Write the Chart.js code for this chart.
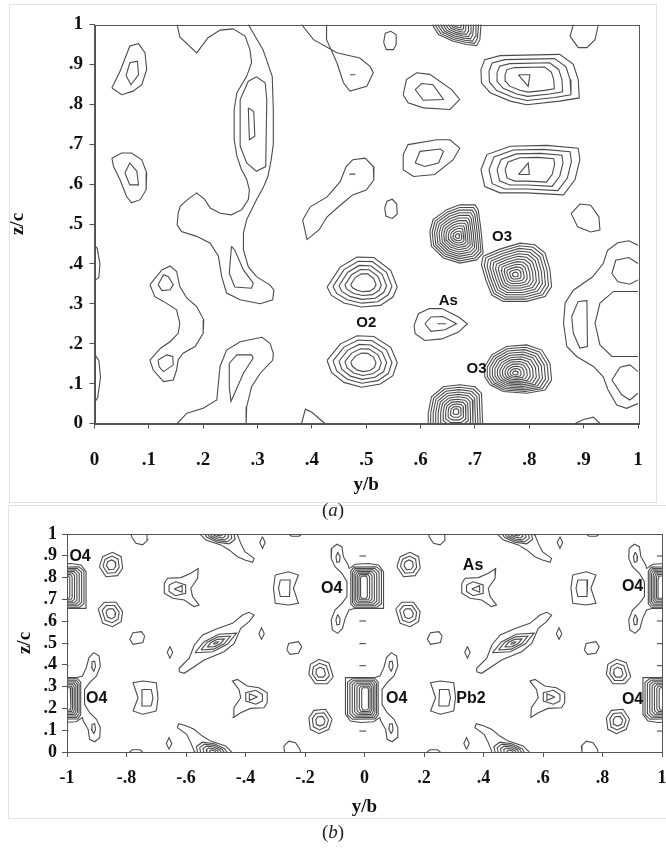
<!DOCTYPE html>
<html>
<head>
<meta charset="utf-8">
<script src="https://cdn.jsdelivr.net/npm/chart.js@4.4.1/dist/chart.umd.min.js"></script>
<style>
  html, body { margin: 0; padding: 0; background: #fff; }
  #page { position: relative; width: 666px; height: 848px; overflow: hidden; }
  .frame { position: absolute; border: 1px solid #e3e3e3; }
  canvas { position: absolute; left: 0; }
  .cap { position: absolute; left: 0; width: 666px; text-align: center; font: 19px "Liberation Serif", serif; color: #222; line-height: 20px; }
</style>
</head>
<body>
<div id="page">
  <div class="frame" style="left:9px;top:4px;width:646px;height:497px"></div>
  <div class="frame" style="left:8px;top:505px;width:700px;height:312px;border-right:none"></div>
  <canvas id="chartA" width="666" height="500" style="top:0"></canvas>
  <canvas id="chartB" width="666" height="320" style="top:512px"></canvas>
  <div class="cap" style="top:500px">(<i>a</i>)</div>
  <div class="cap" style="top:822px">(<i>b</i>)</div>
</div>
<script>
// ---------- panel (a): y/b 0..1, z/c 0..1 ----------
const ticksA = [0, 0.1, 0.2, 0.3, 0.4, 0.5, 0.6, 0.7, 0.8, 0.9, 1];
const labelsA = ['0', '.1', '.2', '.3', '.4', '.5', '.6', '.7', '.8', '.9', '1'];

const a_tl1Out = [[0.032,0.841],[0.047,0.883],[0.065,0.946],[0.081,0.952],[0.093,0.929],[0.096,0.887],[0.087,0.849],[0.071,0.833],[0.05,0.824]];
const a_tl1In = [[0.058,0.872],[0.065,0.904],[0.079,0.908],[0.081,0.874],[0.067,0.849]];
const a_tl2Out = [[0.032,0.665],[0.05,0.678],[0.068,0.678],[0.087,0.661],[0.096,0.628],[0.095,0.586],[0.084,0.561],[0.068,0.553],[0.059,0.569],[0.047,0.611],[0.035,0.644]];
const a_tl2In = [[0.056,0.628],[0.065,0.653],[0.078,0.632],[0.081,0.598],[0.065,0.598]];
const a_ribbon = [[0.152,1.0],[0.157,0.969],[0.188,0.929],[0.209,0.967],[0.231,0.986],[0.255,0.989],[0.277,0.971],[0.286,0.937],[0.289,0.904],[0.280,0.870],[0.262,0.829],[0.257,0.787],[0.257,0.711],[0.262,0.670],[0.270,0.638],[0.280,0.612],[0.285,0.585],[0.283,0.561],[0.271,0.536],[0.252,0.523],[0.231,0.527],[0.213,0.540],[0.203,0.561],[0.188,0.578],[0.170,0.560],[0.158,0.545],[0.154,0.528],[0.152,0.498],[0.160,0.481],[0.188,0.469],[0.213,0.452],[0.228,0.419],[0.234,0.368],[0.243,0.327],[0.268,0.310],[0.305,0.300],[0.328,0.310],[0.330,0.335],[0.323,0.347],[0.298,0.368],[0.283,0.393],[0.274,0.435],[0.274,0.477],[0.280,0.511],[0.289,0.536],[0.298,0.561],[0.310,0.590],[0.319,0.619],[0.325,0.660],[0.329,0.700],[0.329,0.787],[0.327,0.870],[0.310,0.937],[0.283,1.0]];
const a_ribbonIn = [[0.283,0.858],[0.298,0.869],[0.314,0.854],[0.317,0.812],[0.315,0.644],[0.298,0.632],[0.280,0.653],[0.268,0.695],[0.268,0.812]];
const a_ribbonCore = [[0.283,0.791],[0.293,0.782],[0.295,0.72],[0.285,0.711]];
const a_lobeIn = [[0.252,0.444],[0.248,0.377],[0.258,0.342],[0.289,0.339],[0.292,0.352],[0.274,0.385],[0.258,0.435]];
const a_edgeHi = [[0,0.447],[0.005,0.439],[0.01,0.4],[0.008,0.366],[0,0.358]];
const a_edgeLo = [[0,0.174],[0.008,0.158],[0.011,0.116],[0.006,0.065],[0,0.053]];
const a_bone = [[0.102,0.348],[0.124,0.385],[0.139,0.395],[0.151,0.381],[0.157,0.343],[0.170,0.314],[0.188,0.293],[0.201,0.26],[0.2,0.226],[0.185,0.193],[0.163,0.176],[0.154,0.16],[0.151,0.134],[0.145,0.109],[0.127,0.105],[0.108,0.134],[0.102,0.159],[0.121,0.188],[0.139,0.205],[0.154,0.226],[0.157,0.251],[0.151,0.285],[0.127,0.306],[0.111,0.318]];
const a_boneTop = [[0.117,0.348],[0.127,0.373],[0.136,0.368],[0.145,0.348],[0.139,0.335],[0.124,0.333]];
const a_boneBot = [[0.117,0.159],[0.133,0.172],[0.144,0.168],[0.145,0.147],[0.127,0.130],[0.119,0.142]];
const a_foot = [[0.152,0.0],[0.170,0.026],[0.2,0.038],[0.225,0.059],[0.231,0.143],[0.243,0.184],[0.268,0.205],[0.308,0.216],[0.323,0.201],[0.329,0.176],[0.328,0.159],[0.305,0.126],[0.289,0.092],[0.280,0.042],[0.279,0.0]];
const a_footIn = [[0.248,0.151],[0.262,0.172],[0.289,0.172],[0.292,0.164],[0.274,0.126],[0.255,0.067],[0.251,0.055],[0.248,0.092]];
const a_bump = [[0.381,0],[0.388,0.036],[0.4,0.028],[0.424,0]];
const a_tailMid = [[0.475,0.661],[0.498,0.665],[0.513,0.644],[0.514,0.61],[0.5,0.585],[0.475,0.573],[0.452,0.547],[0.428,0.518],[0.413,0.485],[0.391,0.461],[0.383,0.51],[0.397,0.543],[0.428,0.568],[0.452,0.606],[0.463,0.644]];
const a_dashMid = [[0.469,0.625],[0.48,0.625]];
const a_tailTop = [[0.381,1.0],[0.403,0.962],[0.446,0.929],[0.488,0.916],[0.507,0.895],[0.513,0.879],[0.501,0.845],[0.470,0.833],[0.458,0.854],[0.446,0.904],[0.427,0.962],[0.427,1.0]];
const a_dashTop = [[0.470,0.874],[0.48,0.874]];
const a_dotHi = [[0.532,0.955],[0.535,0.978],[0.545,0.983],[0.555,0.975],[0.555,0.95],[0.55,0.937],[0.537,0.937]];
const a_dotLo = [[0.534,0.54],[0.538,0.557],[0.548,0.562],[0.556,0.55],[0.557,0.525],[0.548,0.514],[0.536,0.52]];
const a_asOut = [[0.588,0.246],[0.596,0.275],[0.616,0.288],[0.639,0.288],[0.67,0.267],[0.686,0.25],[0.67,0.229],[0.639,0.212],[0.608,0.208],[0.590,0.225]];
const a_asIn = [[0.608,0.25],[0.619,0.267],[0.641,0.268],[0.666,0.25],[0.645,0.235],[0.619,0.231]];
const a_asDash = [[0.631,0.25],[0.647,0.25]];
const a_pairHiOut = [[0.568,0.824],[0.574,0.862],[0.593,0.879],[0.617,0.875],[0.657,0.837],[0.672,0.812],[0.654,0.787],[0.605,0.791],[0.577,0.804]];
const a_pairHiIn = [[0.590,0.837],[0.602,0.852],[0.623,0.849],[0.642,0.812],[0.605,0.81]];
const a_pairLoOut = [[0.568,0.674],[0.577,0.699],[0.630,0.711],[0.654,0.711],[0.672,0.69],[0.66,0.661],[0.626,0.624],[0.587,0.619],[0.568,0.636]];
const a_pairLoIn = [[0.590,0.653],[0.599,0.682],[0.636,0.688],[0.642,0.682],[0.633,0.653],[0.608,0.644]];
const a_triHi = [[0.780,0.874],[0.801,0.874],[0.798,0.845]];
const a_triLo = [[0.78,0.624],[0.8,0.624],[0.798,0.653]];
const a_loopTop = [[0.881,1.0],[0.875,0.971],[0.89,0.942],[0.906,0.942],[0.921,0.962],[0.927,1.0]];
const a_loopMid = [[0.877,0.526],[0.893,0.55],[0.913,0.547],[0.928,0.518],[0.93,0.485],[0.913,0.48],[0.889,0.493]];
const a_rimOut = [[1.0,0.447],[0.983,0.458],[0.963,0.453],[0.944,0.434],[0.936,0.401],[0.916,0.367],[0.881,0.334],[0.866,0.302],[0.863,0.251],[0.869,0.193],[0.887,0.168],[0.918,0.143],[0.936,0.117],[0.945,0.084],[0.961,0.046],[0.979,0.038],[1.0,0.05]];
const a_rimHiLoop = [[1.0,0.401],[0.983,0.416],[0.959,0.409],[0.952,0.376],[0.963,0.355],[0.985,0.349],[1.0,0.36]];
const a_rimLeftLoop = [[0.878,0.268],[0.89,0.306],[0.906,0.308],[0.907,0.193],[0.893,0.189],[0.881,0.226]];
const a_rimBig = [[1.0,0.331],[0.955,0.331],[0.93,0.302],[0.921,0.251],[0.93,0.197],[0.952,0.168],[1.0,0.168]];
const a_rimLoLoop = [[1.0,0.13],[0.985,0.147],[0.967,0.141],[0.952,0.109],[0.97,0.072],[0.985,0.059],[1.0,0.076]];
const a_rimBump = [[0.884,0],[0.9,0.01],[0.918,0.016],[0.93,0]];

// outer outlines of the nested peaks
const a_o2Hi = [[0.428,0.342],[0.452,0.392],[0.483,0.417],[0.514,0.416],[0.545,0.384],[0.557,0.342],[0.549,0.317],[0.526,0.296],[0.491,0.292],[0.459,0.302],[0.436,0.321]];
const a_o2Lo = [[0.428,0.158],[0.452,0.199],[0.483,0.220],[0.514,0.218],[0.545,0.191],[0.557,0.153],[0.549,0.12],[0.526,0.099],[0.491,0.091],[0.459,0.103],[0.436,0.128]];
const a_o3UL = [[0.617,0.481],[0.623,0.511],[0.648,0.536],[0.672,0.548],[0.70,0.548],[0.706,0.536],[0.711,0.486],[0.715,0.427],[0.703,0.41],[0.672,0.402],[0.642,0.415],[0.62,0.444]];
const a_o3UR = [[0.715,0.419],[0.746,0.437],[0.783,0.452],[0.81,0.448],[0.829,0.427],[0.838,0.385],[0.841,0.343],[0.829,0.318],[0.795,0.306],[0.752,0.306],[0.731,0.322],[0.72,0.36],[0.712,0.398]];
const a_o3LR = [[0.718,0.143],[0.731,0.172],[0.758,0.193],[0.795,0.197],[0.823,0.184],[0.838,0.151],[0.841,0.109],[0.829,0.084],[0.795,0.076],[0.752,0.08],[0.728,0.097],[0.718,0.117]];
const a_o3LL = [[0.614,0.026],[0.62,0.067],[0.642,0.092],[0.672,0.097],[0.70,0.092],[0.712,0.076],[0.714,0.005],[0.714,-0.02],[0.69,-0.045],[0.64,-0.045],[0.614,-0.02]];
const a_o3Top = [[0.623,0.996],[0.633,0.975],[0.66,0.958],[0.685,0.95],[0.703,0.947],[0.709,0.962],[0.711,0.996],[0.711,1.04],[0.668,1.05],[0.623,1.04]];
const a_bigHi = [[0.711,0.887],[0.718,0.912],[0.746,0.922],[0.856,0.925],[0.881,0.9],[0.89,0.862],[0.892,0.816],[0.856,0.808],[0.795,0.799],[0.765,0.808],[0.728,0.829],[0.712,0.854]];
const a_bigLo = [[0.711,0.636],[0.722,0.674],[0.765,0.695],[0.832,0.697],[0.89,0.69],[0.893,0.661],[0.884,0.611],[0.863,0.573],[0.795,0.578],[0.746,0.578],[0.718,0.594]];

// outline, centre y/b, centre z/c, number of rings, inner scale (x, y)
const a_rings = [
  [a_o2Hi, 0.496, 0.352, 5, 0.36, 0.36],
  [a_o2Lo, 0.496, 0.152, 5, 0.36, 0.36],
  [a_o3UL, 0.668, 0.469, 12, 0.08, 0.08],
  [a_o3UR, 0.774, 0.373, 12, 0.08, 0.08],
  [a_o3LR, 0.774, 0.126, 12, 0.08, 0.08],
  [a_o3LL, 0.665, 0.03, 11, 0.1, 0.1],
  [a_o3Top, 0.668, 1.0, 9, 0.15, 0.15],
  [a_bigHi, 0.8, 0.862, 4, 0.5, 0.5],
  [a_bigLo, 0.8, 0.637, 4, 0.5, 0.5]
];
// contour, closed?
const a_lines = [
  [a_tl1Out, 1], [a_tl1In, 1], [a_tl2Out, 1], [a_tl2In, 1],
  [a_ribbon, 0], [a_ribbonIn, 1], [a_ribbonCore, 1], [a_lobeIn, 1],
  [a_edgeHi, 0], [a_edgeLo, 0], [a_bone, 1], [a_boneTop, 1], [a_boneBot, 1],
  [a_foot, 0], [a_footIn, 1], [a_bump, 0],
  [a_tailMid, 1], [a_dashMid, 0], [a_tailTop, 0], [a_dashTop, 0],
  [a_dotHi, 1], [a_dotLo, 1], [a_asOut, 1], [a_asIn, 1], [a_asDash, 0],
  [a_pairHiOut, 1], [a_pairHiIn, 1], [a_pairLoOut, 1], [a_pairLoIn, 1],
  [a_triHi, 1], [a_triLo, 1], [a_loopTop, 0], [a_loopMid, 1],
  [a_rimOut, 0], [a_rimHiLoop, 0], [a_rimLeftLoop, 1], [a_rimBig, 0], [a_rimLoLoop, 0], [a_rimBump, 0]
];
const a_text = [['O3', 0.75, 0.468], ['As', 0.651, 0.308], ['O2', 0.5, 0.251], ['O3', 0.703, 0.137]];

// ---------- panel (b): y/b -1..1, z/c 0..1 ----------
const ticksBx = [-1, -0.8, -0.6, -0.4, -0.2, 0, 0.2, 0.4, 0.6, 0.8, 1];
const labelsBx = ['-1', '-.8', '-.6', '-.4', '-.2', '0', '.2', '.4', '.6', '.8', '1'];
const ticksBy = [0, 0.1, 0.2, 0.3, 0.4, 0.5, 0.6, 0.7, 0.8, 0.9, 1];
const labelsBy = ['0', '.1', '.2', '.3', '.4', '.5', '.6', '.7', '.8', '.9', '1'];

const b_o4Out = [[-0.052,0.841],[-0.054,0.856],[-0.071,0.896],[-0.076,0.942],[-0.093,0.953],[-0.110,0.934],[-0.112,0.888],[-0.099,0.850],[-0.076,0.820],[-0.059,0.781],[-0.059,0.713],[-0.076,0.682],[-0.099,0.651],[-0.112,0.606],[-0.108,0.560],[-0.090,0.544],[-0.074,0.567],[-0.065,0.613],[-0.052,0.651],[-0.031,0.659],[0.064,0.659],[0.064,0.827],[0.047,0.858],[0.013,0.865],[-0.031,0.861]];
const b_o4LoopHi = [[-0.090,0.916],[-0.082,0.896],[-0.084,0.873],[-0.093,0.870],[-0.096,0.896]];
const b_o4LoopLo = [[-0.090,0.631],[-0.082,0.610],[-0.084,0.586],[-0.093,0.583],[-0.096,0.606]];
const b_o4Core = [[-0.046,0.83],[-0.036,0.848],[0.040,0.850],[0.057,0.83],[0.057,0.68],[0.042,0.664],[-0.036,0.664],[-0.046,0.68]];
const b_dashX = [-0.017, 0.005];
const b_dashY = [0.899, 0.601, 0.497, 0.396, 0.096];
const b_smallHi = [[0.109,0.850],[0.120,0.896],[0.153,0.916],[0.182,0.896],[0.187,0.843],[0.170,0.809],[0.131,0.804]];
const b_smallLo = [[0.105,0.656],[0.125,0.687],[0.165,0.687],[0.187,0.644],[0.182,0.598],[0.153,0.575],[0.120,0.590]];
const b_dOut = [[-0.300,0.812],[-0.255,0.827],[-0.222,0.812],[-0.239,0.751],[-0.222,0.682],[-0.255,0.674],[-0.300,0.682],[-0.306,0.751]];
const b_dIn = [[-0.283,0.789],[-0.25,0.789],[-0.252,0.713],[-0.283,0.713],[-0.289,0.751]];
const b_asOut = [[0.327,0.774],[0.338,0.797],[0.383,0.800],[0.416,0.820],[0.441,0.842],[0.439,0.797],[0.416,0.751],[0.422,0.713],[0.444,0.674],[0.427,0.667],[0.394,0.697],[0.355,0.705],[0.327,0.728]];
const b_asMid = [[0.343,0.766],[0.365,0.781],[0.399,0.766],[0.399,0.728],[0.365,0.717],[0.343,0.737]];
const b_asIn = [[0.36,0.748],[0.387,0.763],[0.387,0.733]];
const b_capOut = [[0.439,1.01],[0.467,0.972],[0.517,0.95],[0.545,0.927],[0.573,0.896],[0.598,0.881],[0.624,0.870],[0.629,0.888],[0.598,0.919],[0.584,0.957],[0.573,0.995],[0.571,1.01]];
const b_capCore = [[0.455,1.02],[0.47,0.985],[0.505,0.962],[0.545,0.955],[0.565,0.975],[0.56,1.01],[0.53,1.04],[0.48,1.04]];
const b_diamondA = [[0.346,0.484],[0.355,0.457],[0.346,0.430],[0.337,0.457]];
const b_diamondB = [[0.657,0.988],[0.666,0.961],[0.657,0.934],[0.648,0.961]];
const b_blob = [[-0.261,0.468],[-0.255,0.498],[-0.222,0.506],[-0.211,0.483],[-0.222,0.453],[-0.250,0.448]];
const b_blobTop = [[0.215,1.0],[0.218,0.985],[0.232,0.957],[0.254,0.950],[0.271,0.972],[0.269,1.0]];
const b_bumpTop = [[-0.255,1.0],[-0.245,0.99],[-0.22,0.99],[-0.21,1.0]];
const b_diagOut = [[0.377,0.368],[0.394,0.361],[0.461,0.422],[0.528,0.460],[0.562,0.498],[0.584,0.567],[0.612,0.598],[0.629,0.628],[0.612,0.641],[0.590,0.628],[0.556,0.590],[0.506,0.567],[0.456,0.537],[0.428,0.491],[0.411,0.430],[0.377,0.384]];
const b_diagCore = [[0.43,0.455],[0.46,0.505],[0.51,0.54],[0.57,0.545],[0.54,0.495],[0.49,0.46]];

const b_lines = [
  [b_o4Out, 1], [b_o4LoopHi, 1], [b_o4LoopLo, 1], [b_dOut, 1], [b_dIn, 1],
  [b_asOut, 1], [b_asMid, 1], [b_asIn, 1], [b_capOut, 0],
  [b_diamondA, 1], [b_diamondB, 1], [b_blob, 1], [b_blobTop, 0], [b_bumpTop, 0]
];
const b_rings = [
  [b_o4Core, -0.004, 0.756, 7, 0.22, 0.55],
  [b_smallHi, 0.148, 0.858, 3, 0.4, 0.4],
  [b_smallLo, 0.148, 0.636, 3, 0.4, 0.4],
  [b_capCore, 0.51, 1.0, 5, 0.2, 0.2]
];
const b_diagRing = [b_diagCore, 0.5, 0.5, 4, 0.12, 0.12];
const b_cells = [-1, 0, 1];
const b_text = [['O4', -0.956, 0.896], ['O4', -0.9, 0.246], ['O4', -0.110, 0.751], ['O4', 0.108, 0.246],
  ['As', 0.365, 0.853], ['Pb2', 0.358, 0.243], ['O4', 0.901, 0.758], ['O4', 0.901, 0.239]];

// ---------- helpers ----------
const lineColor = '#4b4b4b';
const axisColor = '#555';

function closeIt(pts) { return pts.concat([pts[0]]); }

function ringsOf(outline, cx, cy, n, sx, sy) {
  const res = [];
  for (let k = 0; k < n; k++) {
    const t = n > 1 ? k / (n - 1) : 0;
    const fx = 1 - t * (1 - sx), fy = 1 - t * (1 - sy);
    res.push(closeIt(outline.map(p => [cx + (p[0] - cx) * fx, cy + (p[1] - cy) * fy])));
  }
  return res;
}

function toDataset(pts) {
  return {
    data: pts.map(p => ({ x: p[0], y: p[1] })),
    showLine: true, pointRadius: 0, pointHoverRadius: 0,
    borderColor: lineColor, borderWidth: 1.1, tension: 0, fill: false
  };
}

const framePlugin = {
  id: 'frame',
  afterDatasetsDraw(chart) {
    const { ctx, chartArea: c } = chart;
    ctx.save();
    ctx.strokeStyle = axisColor;
    ctx.lineWidth = 1;
    ctx.strokeRect(Math.round(c.left) + 0.5, Math.round(c.top) + 0.5, Math.round(c.right - c.left), Math.round(c.bottom - c.top));
    ctx.restore();
  }
};

const labelPlugin = {
  id: 'atomLabels',
  afterDatasetsDraw(chart, args, opts) {
    const { ctx, scales } = chart;
    ctx.save();
    ctx.font = opts.font;
    ctx.fillStyle = '#111';
    ctx.textAlign = 'center';
    ctx.textBaseline = 'middle';
    opts.items.forEach(([t, vx, vy]) => ctx.fillText(t, scales.x.getPixelForValue(vx), scales.y.getPixelForValue(vy)));
    ctx.restore();
  }
};

function axes(c) {
  const tickFont = { family: 'Liberation Serif', weight: 'bold', size: c.tickSize };
  const titleFont = { family: 'Liberation Serif', weight: 'bold', size: 19 };
  return {
    x: {
      type: 'linear', min: c.xMin, max: c.xMax,
      afterBuildTicks: s => { s.ticks = c.xTicks.map(v => ({ value: v })); },
      afterFit: s => { s.height = c.xHeight; s.paddingLeft = 0; s.paddingRight = 0; },
      grid: { drawOnChartArea: false, drawTicks: true, tickLength: 5, color: axisColor },
      border: { color: axisColor },
      ticks: { autoSkip: false, maxRotation: 0, padding: c.xPad, color: '#111', font: tickFont, callback: (v, i) => c.xLabels[i] },
      title: { display: true, text: 'y/b', color: '#111', font: titleFont, padding: { top: 0, bottom: c.xTitlePad } }
    },
    y: {
      type: 'linear', min: 0, max: 1,
      afterBuildTicks: s => { s.ticks = c.yTicks.map(v => ({ value: v })); },
      afterFit: s => { s.width = c.yWidth; s.paddingTop = 0; s.paddingBottom = 0; },
      grid: { drawOnChartArea: false, drawTicks: true, tickLength: 5, color: axisColor },
      border: { color: axisColor },
      ticks: { autoSkip: false, padding: c.yPad, color: '#111', font: tickFont, callback: (v, i) => c.yLabels[i] },
      title: { display: true, text: 'z/c', color: '#111', font: titleFont, padding: { top: c.yTitlePad, bottom: 0 } }
    }
  };
}

// ---------- panel (a) ----------
const pathsA = [];
a_lines.forEach(([pts, closed]) => pathsA.push(closed ? closeIt(pts) : pts));
a_rings.forEach(r => pathsA.push(...ringsOf(...r)));

new Chart(document.getElementById('chartA'), {
  type: 'scatter',
  data: { datasets: pathsA.map(toDataset) },
  options: {
    responsive: false, animation: false, events: [],
    layout: { padding: { left: 0, right: 28, top: 24.5, bottom: 0 } },
    plugins: { legend: { display: false }, tooltip: { enabled: false },
      atomLabels: { items: a_text, font: 'bold 15px "Liberation Sans", Arial, sans-serif' } },
    scales: axes({ xMin: 0, xMax: 1, xTicks: ticksA, xLabels: labelsA, yTicks: ticksA, yLabels: labelsA,
      tickSize: 19, xHeight: 76.5, xPad: 20, xTitlePad: 3.6, yWidth: 94.5, yPad: 6.5, yTitlePad: 6.6 })
  },
  plugins: [framePlugin, labelPlugin]
});

// ---------- panel (b) ----------
const unitB = [];
b_lines.forEach(([pts, closed]) => unitB.push(closed ? closeIt(pts) : pts));
b_rings.forEach(r => unitB.push(...ringsOf(...r)));
// centrosymmetric partner through (0, 1/2)
const invB = unitB.map(path => path.map(p => [-p[0], 1 - p[1]]));
const cellB = unitB.concat(invB, [closeIt(b_diagOut)], ringsOf(...b_diagRing),
  b_dashY.map(y => [[b_dashX[0], y], [b_dashX[1], y]]));
const pathsB = [];
b_cells.forEach(dx => cellB.forEach(path => pathsB.push(path.map(p => [p[0] + dx, p[1]]))));

new Chart(document.getElementById('chartB'), {
  type: 'scatter',
  data: { datasets: pathsB.map(toDataset) },
  options: {
    responsive: false, animation: false, events: [],
    layout: { padding: { left: 0, right: 4, top: 22, bottom: 0 } },
    plugins: { legend: { display: false }, tooltip: { enabled: false },
      atomLabels: { items: b_text, font: 'bold 16px "Liberation Sans", Arial, sans-serif' } },
    scales: axes({ xMin: -1, xMax: 1, xTicks: ticksBx, xLabels: labelsBx, yTicks: ticksBy, yLabels: labelsBy,
      tickSize: 18, xHeight: 80, xPad: 10.2, xTitlePad: 13.6, yWidth: 67, yPad: 5, yTitlePad: 13.6 })
  },
  plugins: [framePlugin, labelPlugin]
});
</script>
</body>
</html>
